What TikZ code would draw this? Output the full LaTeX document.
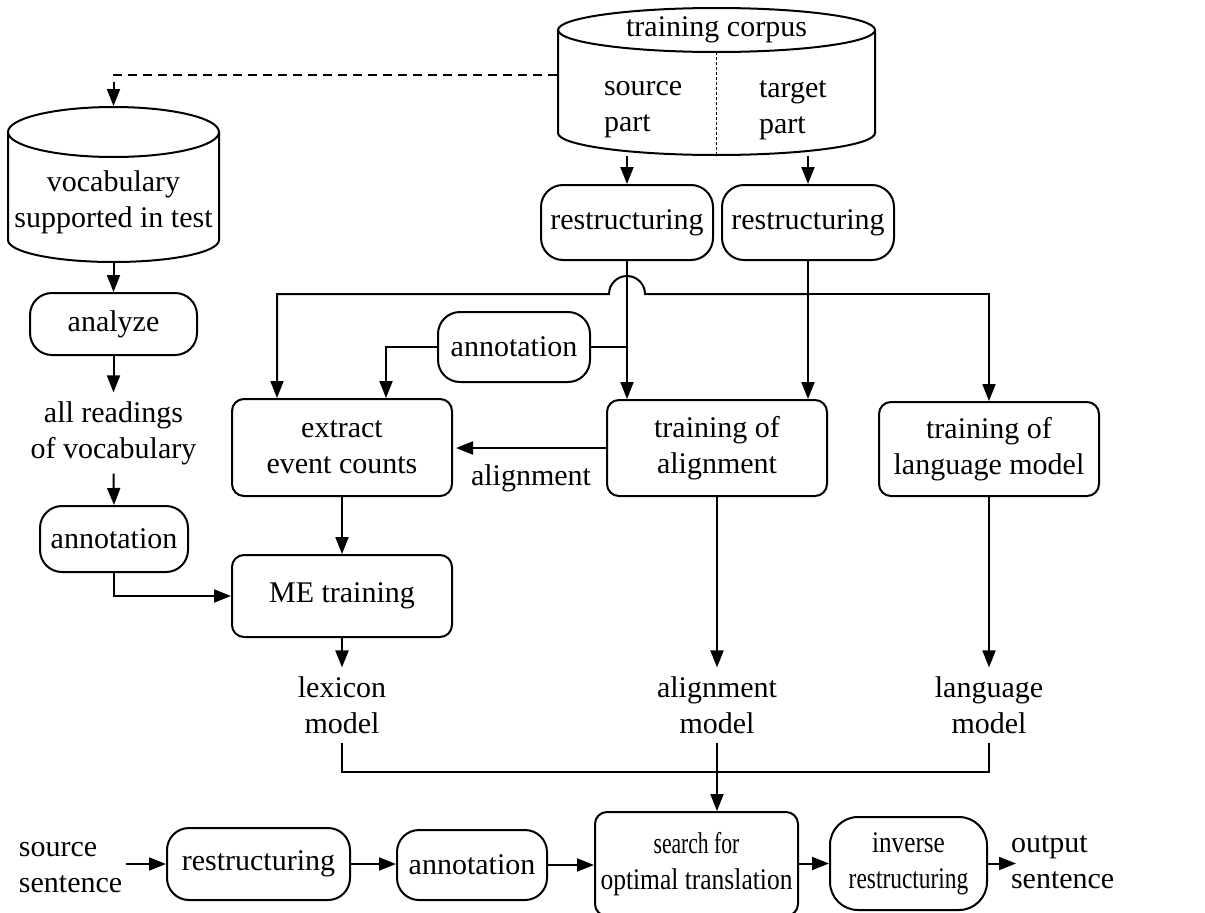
\documentclass[tikz,border=0pt]{standalone}
\usepackage{fontspec}
\setmainfont{Liberation Serif}
\usepackage{graphicx}
\usetikzlibrary{arrows.meta,calc}
\begin{document}
\begin{tikzpicture}[x=1pt,y=-1pt,
  line width=2pt,
  font=\fontsize{30}{36}\selectfont,
  arr/.style={-{Triangle[length=17pt,width=13pt]}},
  sbox/.style={draw, rounded corners=22pt, inner sep=0pt, align=center},
  bbox/.style={draw, rounded corners=12pt, inner sep=0pt, align=center},
  lbl/.style={inner sep=8pt, align=center},
]
\useasboundingbox (0,0) rectangle (1205,913);

% training corpus cylinder
\node[minimum width=317pt, minimum height=147pt, inner sep=0pt] (corpus) at (716.5,81.5) {};
\draw (558,30) -- (558,133) arc[start angle=180,end angle=360,x radius=158.5pt,y radius=22pt] -- (875,30);
\draw (716.5,30) ellipse [x radius=158.5pt, y radius=22pt];
\draw[dash pattern=on 2.5pt off 2.5pt, line width=1.6pt] (716.5,52) -- (716.5,155);
\node[inner sep=0pt] (tc) at (716.5,30) {training corpus};
\node[inner sep=0pt, align=left, anchor=west] (sp) at (603,110) {source\\part};
\node[inner sep=0pt, align=left, anchor=west] (tp) at (758,110) {target\\part};

% vocabulary cylinder
\node[minimum width=211pt, minimum height=155pt, inner sep=0pt] (vocab) at (113.5,184.5) {};
\draw (8,132) -- (8,240) arc[start angle=180,end angle=360,x radius=105.5pt,y radius=22pt] -- (219,132);
\draw (113.5,132) ellipse [x radius=105.5pt, y radius=25pt];
\node[inner sep=0pt, align=center] (vt) at (113.5,202) {vocabulary\\supported in test};

% nodes
\node[sbox, minimum width=172pt, minimum height=75pt] (r1) at (627,222.5) {restructuring};
\node[sbox, minimum width=172pt, minimum height=75pt] (r2) at (808,222.5) {restructuring};
\node[sbox, minimum width=167pt, minimum height=62pt] (an) at (113.5,324) {analyze};
\node[lbl] (rd) at (113.5,433) {all readings\\of vocabulary};
\node[sbox, minimum width=148pt, minimum height=66pt] (a1) at (114,539) {annotation};
\node[bbox, minimum width=220pt, minimum height=97pt] (ex) at (342,447.5) {extract\\event counts};
\node[sbox, minimum width=152pt, minimum height=70pt] (a2) at (514,347) {annotation};
\node[bbox, minimum width=220pt, minimum height=96pt] (al) at (717,448) {training of\\alignment};
\node[bbox, minimum width=220pt, minimum height=94pt] (lm) at (989,449) {training of\\language model};
\node[bbox, minimum width=220pt, minimum height=82pt] (me) at (342,596) {ME training};
\node[lbl] (lx) at (342,705) {lexicon\\model};
\node[lbl] (am) at (717,705) {alignment\\model};
\node[lbl] (lg) at (989,705) {language\\model};
\node[inner sep=3pt, align=left, anchor=west] (ss) at (15,868) {source\\sentence};
\node[sbox, minimum width=183pt, minimum height=72pt] (r3) at (258.5,864) {restructuring};
\node[sbox, minimum width=150pt, minimum height=70pt] (a3) at (472,865) {annotation};
\node[bbox, minimum width=203pt, minimum height=104pt] (se) at (696.5,864) {\scalebox{0.72}[1]{search for}\\\scalebox{0.85}[1]{optimal translation}};
\node[draw, rounded corners=28pt, inner sep=0pt, align=center, minimum width=157pt, minimum height=93pt] (iv) at (908.5,863.5) {\scalebox{0.84}[1]{inverse}\\\scalebox{0.78}[1]{restructuring}};
\node[inner sep=0pt, align=left, anchor=west] (os) at (1010,862) {output\\sentence};

% connectors
\draw[arr, dash pattern=on 9pt off 6pt] ([yshift=6.5pt]corpus.west) -| (vocab.north);
\draw[arr] (corpus.south -| r1.north) -- (r1.north);
\draw[arr] (corpus.south -| r2.north) -- (r2.north);
\draw[arr] (r1.south) -- (r1.south |- al.north);
\draw[arr] (r2.south) -- (r2.south |- al.north);
\coordinate (j) at (r2.south |- 0,294);
\draw[arr] (j) -- ($(r1.south |- j)+(18,0)$) arc[start angle=0,end angle=180,radius=18pt] -| ($(ex.north west)+(46,0)$);
\draw[arr] (j) -| (lm.north);
\draw[arr] (a2.west) -| ($(ex.north)+(44,0)$);
\draw (a2.east) -- (a2.east -| r1.south);
\draw[arr] (al.west) -- ($(al.west -| ex.east)+(3,0)$) node[lbl, midway, below=8pt] (alab) {alignment};
\draw[arr] (vocab.south) -- (an.north);
\draw[arr] (an.south) -- (rd.north);
\draw[arr] (rd.south) -- (a1.north);
\draw[arr] (a1.south) |- (me.west);
\draw[arr] (ex.south) -- (me.north);
\draw[arr] (me.south) -- (lx.north);
\draw[arr] (al.south) -- (am.north);
\draw[arr] (lm.south) -- (lg.north);
\coordinate (bus) at (0,772);
\draw (lx.south) -- (lx.south |- bus) -- (lg.south |- bus) -- (lg.south);
\draw[arr] (am.south) -- (am.south |- se.north);
\draw[arr] (ss.east |- r3.west) -- (r3.west);
\draw[arr] (r3.east) -- (r3.east -| a3.west);
\draw[arr] (a3.east) -- (a3.east -| se.west);
\draw[arr] (se.east |- iv.west) -- (iv.west);
\draw[arr] (iv.east) -- ($(iv.east -| os.west)+(6,0)$);
\end{tikzpicture}
\end{document}
